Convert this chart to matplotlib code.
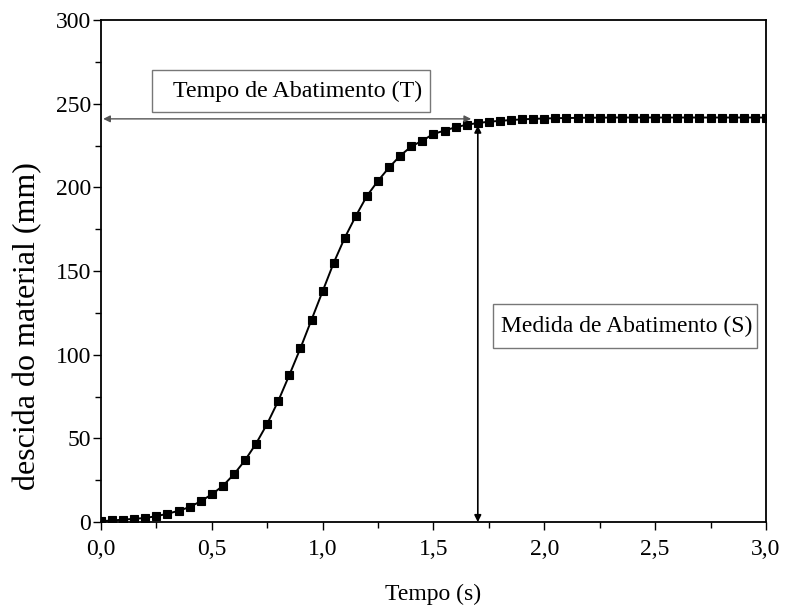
import matplotlib.pyplot as plt
from matplotlib.patches import Rectangle
from matplotlib.ticker import MultipleLocator, FuncFormatter

plt.rcParams['font.family'] = ['Liberation Serif', 'DejaVu Serif']

# descida do material ao longo do tempo (slump)
tempo = [round(0.05 * i, 2) for i in range(61)]
descida = [0.6, 1.0, 1.5, 2.0, 2.5, 3.6, 5.0, 6.8, 9.0, 12.5,
           16.6, 21.7, 28.6, 37.0, 47.0, 58.8, 72.5, 88.0, 104.0, 121.0,
           138.0, 155.0, 170.0, 183.0, 195.0, 204.0, 212.0, 219.0, 224.5, 228.0,
           232.0, 234.0, 236.0, 237.5, 238.5, 239.3, 239.8, 240.3, 240.7, 241.0,
           241.2, 241.4, 241.5, 241.6, 241.7, 241.7, 241.8, 241.8, 241.8, 241.8,
           241.8, 241.8, 241.8, 241.8, 241.8, 241.8, 241.8, 241.8, 241.8, 241.8,
           241.8]

t_abat = 1.7        # instante do abatimento
s_abat = 241.0      # nivel final
seta_t_fim = 1.67

fig = plt.figure(figsize=(7.95, 6.1), dpi=100)
ax = fig.add_axes([0.127, 0.144, 0.8365, 0.823])

ax.plot(tempo, descida, color='black', lw=1.4, marker='s', ms=5.2, mew=0.8,
        markerfacecolor='black', markeredgecolor='black', zorder=3)

# seta horizontal: tempo de abatimento
ax.annotate('', xy=(0.01, s_abat), xytext=(seta_t_fim, s_abat),
            arrowprops=dict(arrowstyle='<|-|>', color='#555555', lw=1.0,
                            mutation_scale=10, shrinkA=0, shrinkB=0))
# seta vertical: medida de abatimento
ax.annotate('', xy=(t_abat, 0), xytext=(t_abat, 237),
            arrowprops=dict(arrowstyle='<|-|>', color='black', lw=1.2,
                            mutation_scale=10, shrinkA=0, shrinkB=0))

# caixas dos rotulos
ax.add_patch(Rectangle((0.23, 245.0), 1.255, 25.1, facecolor='white',
                       edgecolor='#777777', lw=1.0, zorder=4))
ax.text(0.886, 257.6, 'Tempo de Abatimento (T)', fontsize=17.3, ha='center', va='center', zorder=5)
ax.add_patch(Rectangle((1.768, 104.0), 1.191, 26.3, facecolor='white',
                       edgecolor='#777777', lw=1.0, zorder=4))
ax.text(2.373, 117.1, 'Medida de Abatimento (S)', fontsize=17, ha='center', va='center', zorder=5)

ax.set_xlim(0, 3.0)
ax.set_ylim(0, 300)
ax.xaxis.set_major_locator(MultipleLocator(0.5))
ax.xaxis.set_minor_locator(MultipleLocator(0.25))
ax.yaxis.set_major_locator(MultipleLocator(50))
ax.yaxis.set_minor_locator(MultipleLocator(25))
ax.xaxis.set_major_formatter(FuncFormatter(lambda v, p: f'{v:.1f}'.replace('.', ',')))

ax.tick_params(which='both', direction='out', top=False, right=False, labelsize=17, width=1.0)
ax.tick_params(which='major', length=6)
ax.tick_params(which='minor', length=4)
ax.tick_params(axis='x', pad=6)
ax.tick_params(axis='y', pad=1)
for s in ax.spines.values():
    s.set_linewidth(1.3)

ax.set_xlabel('Tempo (s)', fontsize=17)
ax.xaxis.set_label_coords(0.5, -0.122)
ax.set_ylabel('descida do material (mm)', fontsize=23)
ax.yaxis.set_label_coords(-0.088, 0.39)

fig.savefig('out.png', dpi=100)
